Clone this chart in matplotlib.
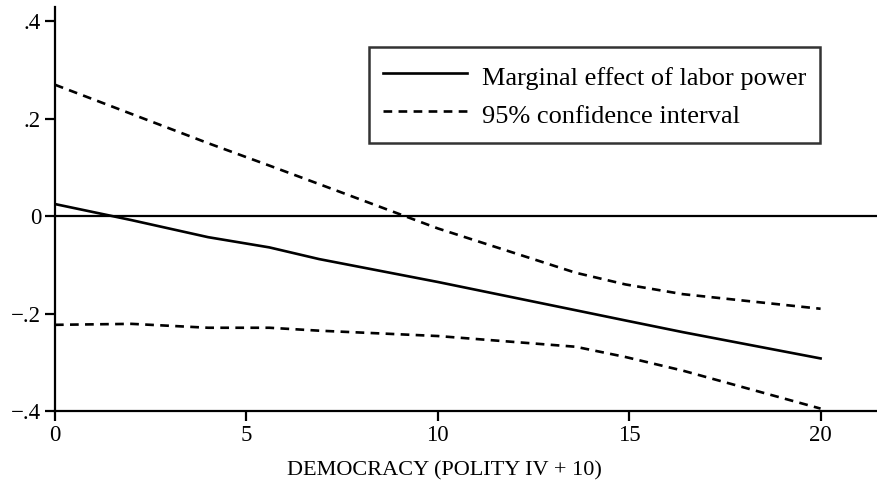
import matplotlib
matplotlib.use("Agg")
import matplotlib.pyplot as plt
import numpy as np

plt.rcParams['font.family'] = ['Liberation Serif', 'DejaVu Serif']

# democracy score and estimates
democ = [0, 2, 4, 5.6, 6.9, 10, 13.6, 14.9, 16.4, 20]
effect = [0.025, -0.008, -0.043, -0.064, -0.088, -0.135, -0.193, -0.214, -0.238, -0.292]
ci_upper = [0.27, 0.21, 0.15, 0.104, 0.066, -0.025, -0.116, -0.14, -0.16, -0.19]
ci_lower = [-0.223, -0.221, -0.229, -0.229, -0.235, -0.246, -0.268, -0.289, -0.317, -0.395]

yticks = [-0.4, -0.2, 0, 0.2, 0.4]
ytick_labels = ['\u2212.4', '\u2212.2', '0', '.2', '.4']
xticks = [0, 5, 10, 15, 20]

fig = plt.figure(figsize=(8.78, 4.87), dpi=100)
ax = fig.add_axes([0.0626, 0.156, 0.9374, 0.83])

dash = (0, (3.3, 2.4))
ax.axhline(0, color='black', lw=1.6)
ax.plot(democ, effect, color='black', lw=1.9, label='Marginal effect of labor power')
ax.plot(democ, ci_upper, color='black', lw=1.9, ls=dash, label='95% confidence interval')
ax.plot(democ, ci_lower, color='black', lw=1.9, ls=dash)

ax.set_xlim(0, 21.5)
ax.set_ylim(-0.4, 0.43)
ax.set_xticks(xticks)
ax.set_yticks(yticks)
ax.set_yticklabels(ytick_labels)
ax.tick_params(direction='out', length=7, width=1.6, labelsize=16.5, pad=3)

for s in ['top', 'right']:
    ax.spines[s].set_visible(False)
for s in ['left', 'bottom']:
    ax.spines[s].set_linewidth(1.6)

ax.set_xlabel('DEMOCRACY (POLITY IV + 10)', fontsize=16)
ax.xaxis.set_label_coords(0.4727, -0.125)

leg = ax.legend(loc='upper left', bbox_to_anchor=(0.3815, 0.901), borderaxespad=0,
                fontsize=19, frameon=True, fancybox=False, edgecolor='black',
                handlelength=3.2, handleheight=1.4, handletextpad=0.55,
                borderpad=0.52, labelspacing=0.3)
leg.get_frame().set_linewidth(1.8)

fig.savefig('out.png', dpi=100)
